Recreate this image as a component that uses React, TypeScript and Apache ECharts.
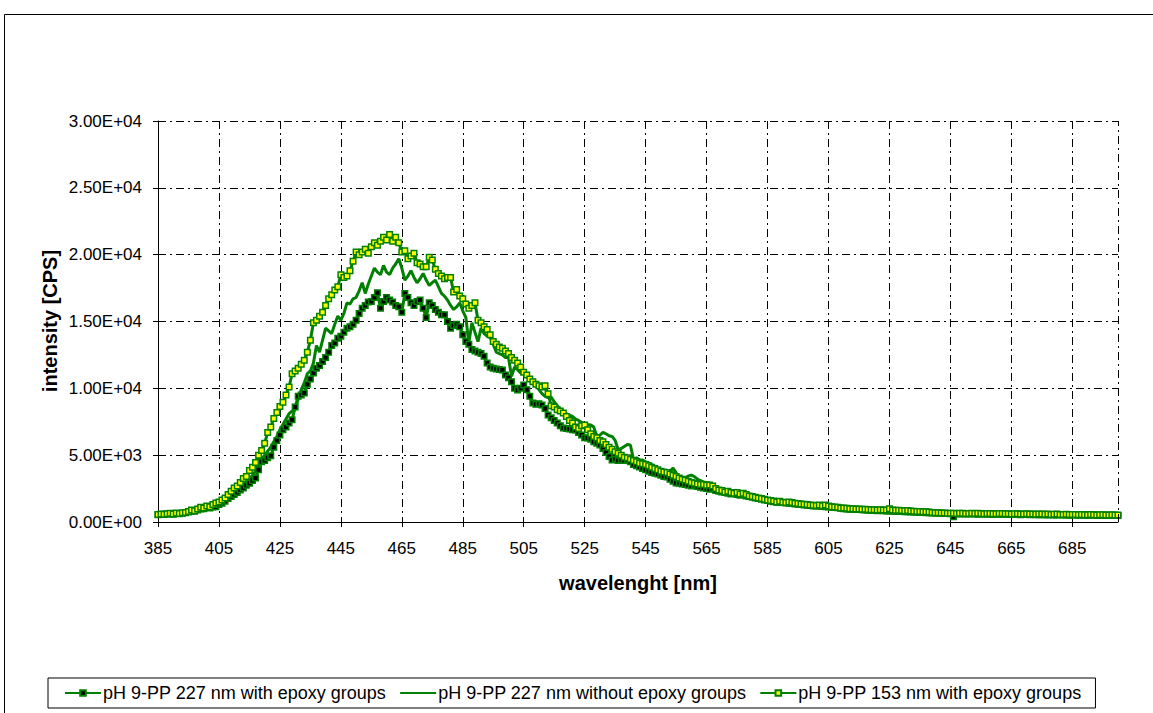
import React, { useEffect, useRef } from 'react';
import * as echarts from 'echarts';

// wavelength categories 385..700 nm (1 nm step)
const WL_START = 385;
const WL_END = 700;
const WAVELENGTHS: string[] = [];
for (let w = WL_START; w <= WL_END; w++) WAVELENGTHS.push(String(w));

const NAME_1 = 'pH 9-PP 227 nm with epoxy groups';
const NAME_2 = 'pH 9-PP 227 nm without epoxy groups';
const NAME_3 = 'pH 9-PP 153 nm with epoxy groups';

const Y_TITLE = 'intensity [CPS]';
const X_TITLE = 'wavelenght [nm]';

// pH 9-PP 227 nm with epoxy groups (black markers)
const S227_EPOXY = [
  540, 570, 560, 590, 610, 580, 640, 620, 660, 690,
  740, 820, 800, 900, 980, 1000, 1080, 1050, 1120, 1150,
  1300, 1400, 1550, 1750, 1900, 2050, 2200, 2400, 2550, 2750,
  2900, 3100, 3300, 3900, 4500, 4600, 4800, 4950, 5600, 6100,
  6500, 6900, 7100, 7400, 7650, 8600, 9400, 9500, 9650, 10300,
  10700, 11150, 11500, 11700, 12000, 12300, 12700, 13200, 13400, 13750,
  13900, 14200, 14500, 14600, 14800, 15100, 15600, 16000, 16200, 16450,
  16500, 16800, 17150, 16000, 16500, 16800, 16600, 16450, 16200, 16100,
  15700, 17100, 16800, 16400, 16200, 16500, 16600, 16000, 15300, 16400,
  16200, 15900, 15700, 15500, 15500, 15000, 14500, 14700, 14800, 14600,
  14000, 13500, 13300, 12900, 12800, 12700, 12600, 12400, 11900, 11600,
  11500, 11450, 11400, 11370, 11000, 10800, 10500, 10000, 9870, 10000,
  10250, 9900, 9400, 8900, 8800, 8850, 8750, 8500, 8000, 7800,
  7600, 7400, 7200, 7030, 7000, 6950, 6900, 6880, 6700, 6500,
  6300, 6280, 6200, 6000, 5900, 5760, 5500, 5200, 4900, 4640,
  4700, 4600, 4650, 4600, 4640, 4500, 4300, 4200, 4110, 4000,
  3900, 3800, 3700, 3650, 3600, 3500, 3400, 3370, 3200, 3050,
  2920, 2900, 2850, 2800, 2750, 2700, 2750, 2650, 2600, 2550,
  2500, 2450, 2500, 2350, 2300, 2250, 2200, 2150, 2100, 2150,
  2050, 2000, 2050, 1950, 1900, 1850, 1800, 1750, 1700, 1650,
  1600, 1550, 1520, 1480, 1500, 1450, 1420, 1400, 1380, 1350,
  1330, 1300, 1280, 1250, 1230, 1200, 1190, 1180, 1170, 1150,
  1130, 1100, 1080, 1060, 1030, 1000, 980, 960, 950, 940,
  930, 920, 900, 880, 870, 860, 850, 860, 840, 830,
  820, 810, 800, 790, 780, 770, 760, 750, 740, 730,
  720, 710, 700, 690, 680, 670, 660, 650, 640, 630,
  620, 400, 610, 600, 620, 590, 600, 610, 590, 580,
  600, 590, 580, 600, 570, 580, 590, 570, 580, 560,
  570, 560, 580, 550, 560, 570, 550, 560, 540, 550,
  540, 550, 530, 540, 520, 530, 540, 520, 530, 510,
  520, 530, 510, 520, 500, 510, 520, 500, 510, 490,
  500, 490, 500, 480, 490, 480,
];

// pH 9-PP 227 nm without epoxy groups (plain line)
const S227_NO_EPOXY = [
  560, 590, 570, 600, 620, 600, 650, 630, 670, 700,
  750, 840, 820, 920, 1000, 1020, 1100, 1080, 1150, 1200,
  1300, 1420, 1600, 1800, 2000, 2150, 2350, 2550, 2750, 2950,
  3250, 3500, 3800, 4400, 4700, 5000, 5300, 5600, 6000, 6400,
  6900, 7300, 7700, 8100, 8300, 8400, 9200, 9900, 10400, 11100,
  11300, 11900, 13200, 12700, 13600, 14500, 14300, 14100, 14800, 15400,
  15100, 15600, 16400, 16300, 16700, 16800, 17300, 17900, 17100, 17800,
  18400, 19000, 18700, 18500, 19200, 18700, 18500, 19000, 19300, 19700,
  19000, 18100, 18400, 18800, 18300, 17900, 18200, 18600, 18100, 17700,
  17900, 18100, 17600, 17100, 16900, 16600, 16200, 15900, 16100, 16400,
  15800, 15300, 13400, 14900, 14200, 13500, 14500, 14100, 13900, 13800,
  13300, 12700, 12600, 12500, 12300, 12300, 10900, 11600, 11400, 11150,
  11100, 10900, 10800, 10600, 10200, 9900, 9600, 9400, 9300, 9350,
  9000, 8700, 8400, 8300, 8100, 8000, 7900, 7700, 7600, 7450,
  7350, 7300, 7260, 7100, 6400, 6500, 6700, 6600, 6450, 6400,
  6100, 5400, 5500, 5650, 5800, 5760, 4700, 4800, 4650, 4640,
  4500, 4400, 4300, 4110, 4000, 3900, 3850, 3740, 3800, 4040,
  3700, 3200, 3140, 3300, 3450, 3510, 3400, 3200, 3100, 3000,
  2950, 2920, 2800, 2600, 2450, 2400, 2300, 2350, 2250, 2200,
  2250, 2150, 2200, 2100, 2000, 1950, 1900, 1850, 1800, 1750,
  1700, 1650, 1620, 1550, 1580, 1520, 1500, 1520, 1480, 1430,
  1400, 1380, 1350, 1320, 1300, 1280, 1260, 1290, 1240, 1260,
  1210, 1170, 1140, 1110, 1080, 1060, 1040, 1020, 1000, 990,
  980, 970, 960, 940, 930, 920, 910, 920, 900, 900,
  950, 910, 890, 880, 870, 860, 850, 830, 810, 800,
  790, 780, 760, 750, 730, 710, 700, 690, 680, 670,
  660, 650, 650, 640, 650, 640, 630, 640, 630, 640,
  620, 630, 620, 610, 620, 610, 620, 600, 610, 600,
  600, 590, 600, 590, 580, 590, 580, 570, 580, 570,
  560, 570, 560, 550, 560, 550, 540, 550, 540, 530,
  540, 530, 520, 530, 520, 510, 520, 510, 500, 510,
  500, 510, 500, 490, 500, 490,
];

// pH 9-PP 153 nm with epoxy groups (yellow markers)
const S153_EPOXY = [
  560, 600, 580, 620, 650, 600, 680, 640, 700, 720,
  780, 900, 850, 980, 1100, 1050, 1200, 1150, 1300, 1420,
  1500, 1650, 1800, 2050, 2300, 2550, 2700, 2950, 3250, 3400,
  3850, 4100, 4450, 5000, 5350, 5900, 6700, 7100, 7750, 8200,
  8650, 8950, 9500, 10100, 11100, 11300, 11500, 11800, 12100, 12700,
  13600, 14900, 15100, 15400, 15700, 16200, 16700, 17000, 17350, 17600,
  18500, 18300, 18400, 18800, 19500, 20200, 20000, 20200, 20400, 20100,
  20600, 20900, 20700, 21000, 21300, 21100, 21500, 21000, 21300, 20900,
  20200, 20300, 19700, 19900, 20100, 19400, 19300, 19100, 19100, 19800,
  19600, 18900, 18600, 18400, 18200, 18300, 18300, 17200, 17400, 16900,
  16700, 16300, 16000, 16200, 16400, 15100, 14900, 14600, 14400, 14000,
  13500, 13300, 13100, 13000, 12800, 12600, 12300, 12100, 11900, 11600,
  11200, 11000, 10700, 10500, 10300, 10200, 10100, 10200, 9600, 8700,
  8600, 8400, 8300, 8150, 7900, 7600, 7400, 7100, 7000, 7200,
  7260, 6900, 6600, 6400, 6300, 6100, 6000, 5800, 5600, 5450,
  5250, 5150, 5000, 4850, 4800, 4700, 4600, 4500, 4400, 4350,
  4300, 4200, 4100, 4000, 3900, 3800, 3750, 3700, 3600, 3500,
  3400, 3300, 3200, 3150, 3050, 2950, 2900, 2850, 2800, 2800,
  2750, 2770, 2700, 2500, 2400, 2350, 2250, 2300, 2200, 2150,
  2200, 2100, 2150, 2050, 1950, 1900, 1850, 1800, 1750, 1700,
  1650, 1600, 1580, 1500, 1550, 1480, 1460, 1500, 1450, 1400,
  1380, 1350, 1320, 1300, 1270, 1250, 1230, 1280, 1220, 1270,
  1200, 1150, 1120, 1100, 1050, 1050, 1020, 1000, 990, 980,
  970, 960, 950, 930, 920, 910, 900, 920, 890, 900,
  1000, 900, 880, 870, 860, 850, 860, 830, 800, 790,
  780, 770, 760, 740, 720, 700, 690, 680, 670, 660,
  650, 660, 640, 650, 660, 640, 630, 650, 640, 650,
  630, 620, 640, 630, 610, 620, 640, 630, 620, 610,
  600, 620, 610, 600, 590, 610, 600, 590, 580, 600,
  590, 580, 600, 570, 580, 590, 560, 570, 580, 570,
  560, 570, 550, 560, 540, 550, 560, 540, 530, 550,
  540, 530, 520, 540, 530, 520,
];

const Y_MIN = 0;
const Y_MAX = 30000;
const Y_STEP = 5000;
const X_LABEL_EVERY = 20;

const FONT = '"Liberation Sans", Arial, sans-serif';
const GREEN = '#008000';
const GRID_DASH = [8, 4, 2, 4];

function sci(v: number): string {
  if (v === 0) return '0.00E+00';
  const e = Math.floor(Math.log10(Math.abs(v)));
  const m = v / Math.pow(10, e);
  const sign = e < 0 ? '-' : '+';
  return m.toFixed(2) + 'E' + sign + String(Math.abs(e)).padStart(2, '0');
}

export default function App() {
  const ref = useRef<HTMLDivElement>(null);

  useEffect(() => {
    if (!ref.current) return;
    const chart = echarts.init(ref.current, null, { renderer: 'svg' });
    const every = (i: number) => i % X_LABEL_EVERY === 0;

    const option: any = {
      animation: false,
      backgroundColor: '#fff',
      textStyle: { fontFamily: FONT },
      grid: { left: 158, top: 121, right: 35, bottom: 191, containLabel: false },
      xAxis: {
        type: 'category',
        data: WAVELENGTHS,
        boundaryGap: false,
        axisLine: { lineStyle: { color: '#000', width: 1 } },
        axisTick: { show: true, interval: (i: number) => every(i), length: 5, lineStyle: { color: '#000' } },
        axisLabel: { interval: (i: number) => every(i), color: '#000', fontSize: 17, fontFamily: FONT, margin: 18 },
        splitLine: { show: true, interval: (i: number) => every(i), lineStyle: { color: '#000', width: 1, type: GRID_DASH } },
      },
      yAxis: {
        type: 'value',
        min: Y_MIN,
        max: Y_MAX,
        interval: Y_STEP,
        axisLine: { show: true, lineStyle: { color: '#000', width: 1 } },
        axisTick: { show: true, length: 5, lineStyle: { color: '#000' } },
        axisLabel: { color: '#000', fontSize: 17, fontFamily: FONT, margin: 16, formatter: (v: number) => sci(v) },
        splitLine: { show: true, lineStyle: { color: '#000', width: 1, type: GRID_DASH } },
      },
      legend: {
        left: 48,
        top: 678,
        orient: 'horizontal',
        itemWidth: 36,
        itemHeight: 7,
        itemGap: 13,
        padding: [6, 14, 6, 16],
        borderColor: '#000',
        borderWidth: 1,
        textStyle: { color: '#000', fontSize: 18, fontFamily: FONT, padding: [0, 0, 0, -3] },
        data: [
          { name: NAME_1 },
          { name: NAME_2, itemStyle: { opacity: 0 } },
          { name: NAME_3 },
        ],
      },
      graphic: [
        {
          type: 'rect',
          z: -10,
          silent: true,
          shape: { x: 4.5, y: 14.5, width: 1400, height: 900 },
          style: { fill: 'none', stroke: '#000', lineWidth: 1 },
        },
        {
          type: 'text',
          x: 50,
          y: 321,
          rotation: Math.PI / 2,
          style: { text: Y_TITLE, fontSize: 20, fontWeight: 'bold', fontFamily: FONT, fill: '#000', align: 'center', verticalAlign: 'middle' },
        },
        {
          type: 'text',
          x: 638,
          y: 583,
          style: { text: X_TITLE, fontSize: 20, fontWeight: 'bold', fontFamily: FONT, fill: '#000', align: 'center', verticalAlign: 'middle' },
        },
      ],
      series: [
        {
          name: NAME_1,
          type: 'line',
          data: S227_EPOXY,
          symbol: 'rect',
          symbolSize: 5.5,
          showAllSymbol: true,
          lineStyle: { color: GREEN, width: 3 },
          itemStyle: { color: '#000', borderColor: GREEN, borderWidth: 1.5 },
          emphasis: { disabled: true },
        },
        {
          name: NAME_2,
          type: 'line',
          data: S227_NO_EPOXY,
          symbol: 'none',
          lineStyle: { color: GREEN, width: 3 },
          itemStyle: { color: GREEN },
          emphasis: { disabled: true },
          markLine: {
            silent: true,
            symbol: ['none', 'none'],
            label: { show: false },
            lineStyle: { color: '#000', width: 1, type: GRID_DASH },
            data: [{ xAxis: String(WL_END) }],
          },
        },
        {
          name: NAME_3,
          type: 'line',
          data: S153_EPOXY,
          symbol: 'rect',
          symbolSize: 5.5,
          showAllSymbol: true,
          lineStyle: { color: GREEN, width: 3 },
          itemStyle: { color: '#FFFF00', borderColor: GREEN, borderWidth: 1.5 },
          emphasis: { disabled: true },
        },
      ],
    };

    chart.setOption(option);
    return () => chart.dispose();
  }, []);

  return (
    <div
      ref={ref}
      style={{ position: 'absolute', left: 0, top: 0, width: 1153, height: 713, background: '#fff' }}
    />
  );
}
